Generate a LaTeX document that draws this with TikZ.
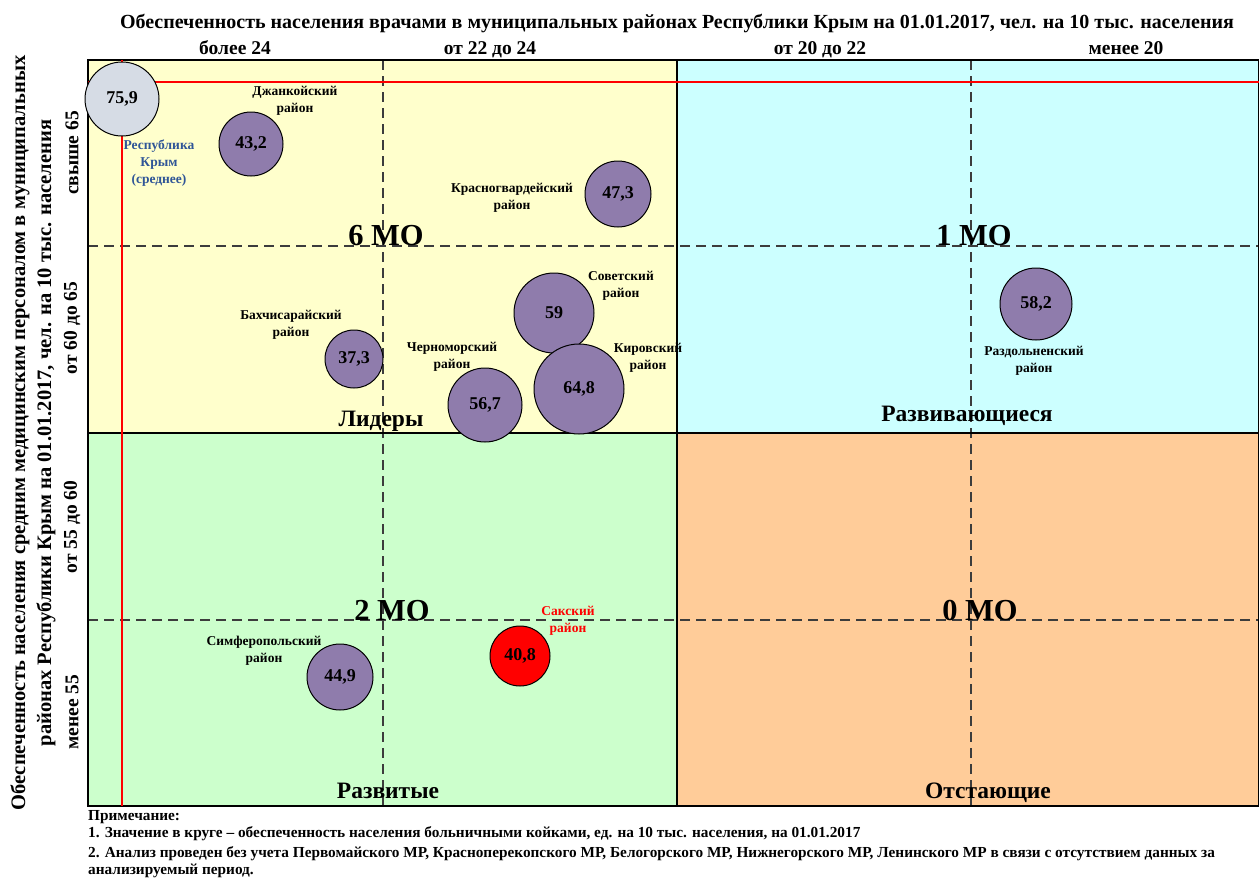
\documentclass[tikz,border=0pt]{standalone}
\usepackage{fontspec}
\setmainfont{Liberation Serif}
\usetikzlibrary{positioning}

\definecolor{leadyel}{RGB}{255,255,204}
\definecolor{devcyan}{RGB}{204,255,255}
\definecolor{okgreen}{RGB}{204,255,204}
\definecolor{lagorange}{RGB}{255,204,153}
\definecolor{bubpurple}{RGB}{143,124,172}
\definecolor{avgblue}{RGB}{214,220,229}
\definecolor{avgtext}{RGB}{47,85,151}
\definecolor{dashgray}{RGB}{60,60,60}

\tikzset{
  bubble/.style={circle, draw=black, fill=bubpurple, line width=1pt, inner sep=0pt,
    font=\fontsize{18}{18}\selectfont\bfseries},
  distlabel/.style={align=center, inner sep=0pt, font=\fontsize{13.5}{17}\selectfont\bfseries},
  mocount/.style={anchor=base, inner sep=0pt, font=\fontsize{30.5}{30.5}\selectfont\bfseries},
  quadname/.style={anchor=base, inner sep=0pt, font=\fontsize{23.5}{23.5}\selectfont\bfseries},
  colhead/.style={inner sep=0pt, font=\fontsize{19.5}{19.5}\selectfont\bfseries},
  notetext/.style={anchor=west, inner sep=0pt, font=\fontsize{15.3}{15.3}\selectfont\bfseries},
  griddash/.style={dashgray, dash pattern=on 10pt off 6pt, line width=1.2pt},
  avgline/.style={red, line width=1.5pt},
}

\begin{document}
\begin{tikzpicture}[x=1pt,y=-1pt]

\useasboundingbox (0,0) rectangle (1259,879);

% quadrants
\fill[leadyel] (88,60) rectangle (677,433);
\fill[devcyan] (677,60) rectangle (1259,433);
\fill[okgreen] (88,433) rectangle (677,806);
\fill[lagorange] (677,433) rectangle (1259,806);

\draw[griddash] (383,60) -- (383,806);
\draw[griddash] (971,60) -- (971,806);
\draw[griddash] (88,246) -- (1259,246);
\draw[griddash] (88,620) -- (1259,620);

\draw[line width=1.5pt] (88,60) rectangle (1259,806);
\draw[line width=1.5pt] (677,60) -- (677,806);
\draw[line width=1.5pt] (88,433) -- (1259,433);

% average
\draw[avgline] (122,60) -- (122,806);
\draw[avgline] (88,82) -- (1259,82);

% headers
\node[anchor=base] (title) at (677,28) {\fontsize{20}{20}\selectfont\bfseries Обеспеченность населения врачами в муниципальных районах Республики Крым на 01.01.2017, чел. на 10 тыс. населения};
\node[colhead,anchor=base] (c1) at (235,54) {более 24};
\node[colhead,anchor=base] (c2) at (490,54) {от 22 до 24};
\node[colhead,anchor=base] (c3) at (820,54) {от 20 до 22};
\node[colhead,anchor=base] (c4) at (1126,54) {менее 20};

\node[colhead,rotate=90] (r1) at (72,153) {свыше 65};
\node[colhead,rotate=90] (r2) at (72,328) {от 60 до 65};
\node[colhead,rotate=90] (r3) at (72,527) {от 55 до 60};
\node[colhead,rotate=90] (r4) at (72,712) {менее 55};
\node[rotate=90,align=center,inner sep=0pt,font=\fontsize{20.5}{26}\selectfont\bfseries] (ytitle) at (33,433)
  {Обеспеченность населения средним медицинским персоналом в муниципальных\\районах Республики Крым на 01.01.2017, чел. на 10 тыс. населения};

% quadrant names
\node[mocount] (m6) at (386,245) {6 МО};
\node[mocount] (m1) at (974,245) {1 МО};
\node[mocount] (m2) at (392,620) {2 МО};
\node[mocount] (m0) at (980,620) {0 МО};
\node[quadname] (lead) at (381,426) {Лидеры};
\node[quadname] (grow) at (967,421) {Развивающиеся};
\node[quadname] (devd) at (388,798) {Развитые};
\node[quadname] (lag) at (988,798) {Отстающие};

% districts
\node[bubble,fill=avgblue,minimum size=74pt] (krym) at (122,99) {75,9};
\node[bubble,minimum size=64pt] (dzhank) at (251,144) {43,2};
\node[bubble,minimum size=66pt] (krasn) at (618,194) {47,3};
\node[bubble,minimum size=80pt] (sovet) at (554,313) {59};
\node[bubble,minimum size=90pt] (kirov) at (579,389) {64,8};
\node[bubble,minimum size=58pt] (bakh) at (354,359) {37,3};
\node[bubble,minimum size=74pt] (chern) at (485,405) {56,7};
\node[bubble,minimum size=72pt] (razd) at (1036,304) {58,2};
\node[bubble,minimum size=66pt] (simf) at (340,677) {44,9};
\node[bubble,fill=red,minimum size=60pt] (saki) at (520,656) {40,8};

\node[distlabel,text=avgtext] (krymlbl) at (159,163) {Республика\\Крым\\(среднее)};
\node[distlabel] (dzhanklbl) at (295,101) {Джанкойский\\район};
\node[distlabel] (krasnlbl) at (512,198) {Красногвардейский\\район};
\node[distlabel] (sovetlbl) at (621,286) {Советский\\район};
\node[distlabel] (kirovlbl) at (648,358) {Кировский\\район};
\node[distlabel] (bakhlbl) at (291,325) {Бахчисарайский\\район};
\node[distlabel] (chernlbl) at (452,357) {Черноморский\\район};
\node[distlabel] (razdlbl) at (1034,361) {Раздольненский\\район};
\node[distlabel] (simflbl) at (264,651) {Симферопольский\\район};
\node[distlabel,text=red] (sakilbl) at (568,621) {Сакский\\район};

% notes
\node[notetext] (n0) at (88,817) {Примечание:};
\node[notetext] (n1) at (88,834) {1. Значение в круге – обеспеченность населения больничными койками, ед. на 10 тыс. населения, на 01.01.2017};
\node[notetext] (n2) at (88,854) {2. Анализ проведен без учета Первомайского МР, Красноперекопского МР, Белогорского МР, Нижнегорского МР, Ленинского МР в связи с отсутствием данных за};
\node[notetext] (n3) at (88,871) {анализируемый период.};

\end{tikzpicture}
\end{document}
